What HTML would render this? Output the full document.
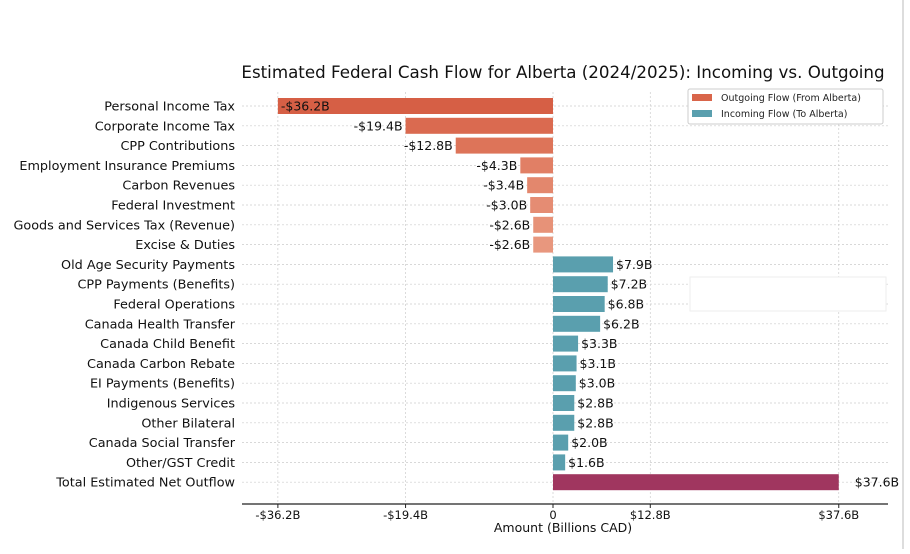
<!DOCTYPE html>
<html><head><meta charset="utf-8"><style>
body{margin:0;background:#fff;font-family:"Liberation Sans","DejaVu Sans",sans-serif;}
svg text{font-family:"DejaVu Sans","Liberation Sans",sans-serif;}
</style></head><body>
<svg id="c" width="910" height="549" xmlns="http://www.w3.org/2000/svg">
<rect x="0" y="0" width="910" height="549" fill="#fff"/>
<line x1="903" y1="0" x2="903" y2="549" stroke="#ddd" stroke-width="2"/>
<text x="563" y="78" text-anchor="middle" font-size="16.7" fill="#111">Estimated Federal Cash Flow for Alberta (2024/2025): Incoming vs. Outgoing</text>
<g id="grid"></g><g id="bars"></g><g id="labels"></g><g id="axis"></g>
<text x="563" y="532" text-anchor="middle" font-size="12.5" fill="#111">Amount (Billions CAD)</text>
<g>
<rect x="688" y="89" width="195" height="35" fill="#fff" stroke="#ccc" rx="2"/>
<rect x="692" y="94" width="20" height="7" fill="#d9654a"/>
<text x="721" y="101" font-size="9.5" fill="#222">Outgoing Flow (From Alberta)</text>
<rect x="692" y="110" width="20" height="7" fill="#5a9fae"/>
<text x="721" y="117" font-size="9.5" fill="#222">Incoming Flow (To Alberta)</text>
</g>
<rect x="690" y="277" width="196" height="34" fill="#fff" stroke="#eee"/>
</svg>
<script>
const categories=["Personal Income Tax","Corporate Income Tax","CPP Contributions","Employment Insurance Premiums","Carbon Revenues","Federal Investment","Goods and Services Tax (Revenue)","Excise & Duties","Old Age Security Payments","CPP Payments (Benefits)","Federal Operations","Canada Health Transfer","Canada Child Benefit","Canada Carbon Rebate","EI Payments (Benefits)","Indigenous Services","Other Bilateral","Canada Social Transfer","Other/GST Credit","Total Estimated Net Outflow"];
const values=[-36.2,-19.4,-12.8,-4.3,-3.4,-3.0,-2.6,-2.6,7.9,7.2,6.8,6.2,3.3,3.1,3.0,2.8,2.8,2.0,1.6,37.6];
const tickValues=[-36.2,-19.4,0,12.8,37.6];
const tickLabels=["-$36.2B","-$19.4B","0","$12.8B","$37.6B"];
const NS="http://www.w3.org/2000/svg";
const x0=553,k=7.6,top0=106,step=19.8,bh=16,plotTop=92,plotBot=495;
const x=v=>x0+v*k, y=i=>top0+i*step;
function mk(t,a,p,txt){const e=document.createElementNS(NS,t);for(const n in a)e.setAttribute(n,a[n]);if(txt!==undefined)e.textContent=txt;document.getElementById(p).appendChild(e);return e;}
const outCols=["#d65f45","#da6a50","#dd7459","#e17f65","#e3876d","#e58c73","#e79278","#e8977e"];
categories.forEach((c,i)=>{
 const g=mk("line",{x1:242,x2:888,y1:y(i),y2:y(i),stroke:"#ccc","stroke-dasharray":"2,2","stroke-width":0.7},"grid");
 
 
});
tickValues.forEach((v,i)=>{
 const g=mk("line",{x1:x(v),x2:x(v),y1:plotTop,y2:504,stroke:"#ccc","stroke-dasharray":"2,2","stroke-width":0.7},"grid");
 
 
 const t=mk("line",{x1:x(v),x2:x(v),y1:504,y2:508,stroke:"#222"},"axis");
 
 
 const l=mk("text",{x:x(v),y:519,"text-anchor":"middle","font-size":11.5,fill:"#111"},"axis",tickLabels[i]);
 
 
});
const ax=mk("line",{x1:242,x2:888,y1:504,y2:504,stroke:"#222","stroke-width":1.2},"axis");


categories.forEach((c,i)=>{
 const v=values[i];
 const col=i===categories.length-1?"#a0365f":(v<0?outCols[Math.min(i,7)]:"#5a9fae");
 const r=mk("rect",{x:Math.min(x(0),x(v)),y:y(i)-bh/2,width:Math.abs(x(v)-x(0)),height:bh,fill:col},"bars");
 
 
 const lab=(v<0?"-$":"$")+Math.abs(v).toFixed(1)+"B";
 let lx,anc;
 if(i===categories.length-1){lx=x(v)+16;anc="start";}
 else if(v<0){lx=x(v)-3;anc="end";}
 else{lx=x(v)+3;anc="start";}
 if(i===0){lx=x(v)+3;anc="start";}
 const t=mk("text",{x:lx,y:y(i)+4.5,"text-anchor":anc,"font-size":12.5,fill:"#111"},"labels",lab);
 
 
 const cl=mk("text",{x:235,y:y(i)+4.5,"text-anchor":"end","font-size":12.8,fill:"#111"},"labels",c);
 
 
});
</script>
</body></html>
